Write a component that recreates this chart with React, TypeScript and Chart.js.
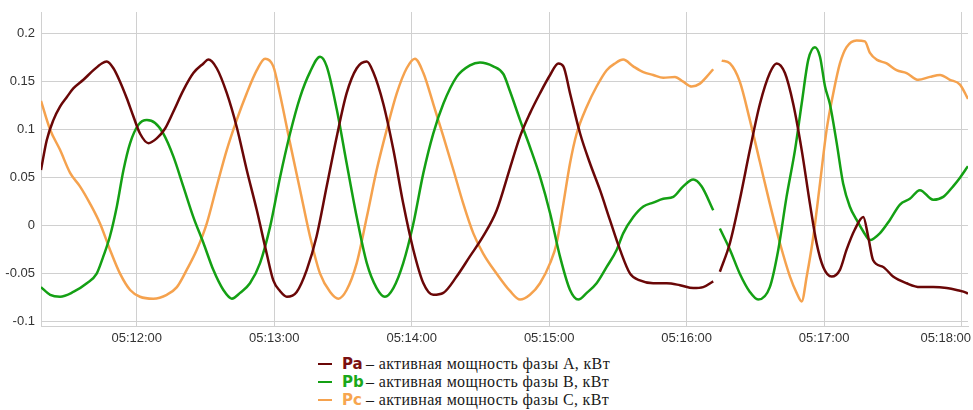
import React, { useEffect, useRef } from "react";
import { Chart, registerables } from "chart.js";

Chart.register(...registerables);

// time in seconds after 05:11:00
const X_MIN = 18.2;
const X_MAX = 422.8;
const Y_MIN = -0.1045;
const Y_MAX = 0.2226;
const X_TICKS = [60, 120, 180, 240, 300, 360, 420];

const paT = [18.2,20.7,23.6,26.5,29.5,32.3,36.7,41.1,44.7,46.9,49.8,52.7,55.6,58.5,61.4,65.1,68.7,72.3,76.0,80.3,84.7,89.1,91.2,94.9,99.3,103.6,108.0,112.4,116.7,119.6,122.5,125.5,129.8,134.2,138.5,142.9,147.3,151.6,156.0,160.4,163.2,167.6,172.0,176.3,180.7,185.1,189.4,193.8,199.6,205.4,211.2,217.1,222.9,227.3,231.6,236.0,240.4,244.0,246.2,249.1,253.5,257.8,262.2,266.5,270.9,275.3,279.6,285.4,291.3,297.1,302.9,307.2,311.6,313.0,314.5,318.9,323.2,327.6,332.0,336.3,339.3,342.9,346.5,350.2,353.8,356.7,359.6,363.3,366.9,369.8,373.4,377.1,379.2,381.4,385.8,390.1,396.0,401.8,407.6,413.5,417.8,422.2,422.8];
const paV = [0.058,0.089,0.110,0.124,0.134,0.143,0.152,0.162,0.169,0.171,0.164,0.150,0.133,0.114,0.096,0.086,0.091,0.101,0.119,0.141,0.159,0.169,0.173,0.164,0.138,0.103,0.058,0.016,-0.029,-0.057,-0.068,-0.074,-0.069,-0.046,-0.011,0.041,0.093,0.138,0.164,0.171,0.160,0.127,0.079,0.023,-0.025,-0.060,-0.072,-0.070,-0.053,-0.032,-0.011,0.016,0.060,0.093,0.117,0.138,0.157,0.169,0.166,0.138,0.096,0.065,0.037,0.006,-0.025,-0.050,-0.057,-0.060,-0.060,-0.062,-0.065,-0.064,-0.058,null,-0.048,-0.018,0.027,0.079,0.127,0.159,0.169,0.159,0.127,0.079,0.023,-0.018,-0.043,-0.053,-0.046,-0.025,-0.004,0.009,-0.011,-0.036,-0.043,-0.053,-0.060,-0.064,-0.064,-0.065,-0.067,-0.070,-0.071];

const pbT = [18.2,22.2,26.5,32.3,38.2,42.5,45.4,48.3,51.3,54.2,57.1,60.7,64.4,68.0,71.6,76.0,80.3,84.7,89.1,93.4,97.8,101.5,105.1,109.4,113.8,118.2,122.5,126.9,131.3,135.6,140.0,142.9,147.3,151.6,156.0,160.4,164.7,168.3,172.0,176.3,180.7,185.1,189.4,193.8,199.6,205.4,209.8,215.6,220.0,222.9,227.3,231.6,236.0,240.4,244.7,249.1,252.7,256.4,260.7,265.1,269.5,272.3,276.7,281.1,285.4,289.8,294.2,298.5,302.9,306.5,311.6,313.0,314.5,318.9,323.2,327.6,331.2,336.3,340.0,343.6,347.3,350.2,353.1,356.0,358.2,360.4,362.5,365.5,368.3,371.2,374.2,377.1,380.0,384.3,388.7,393.1,397.4,401.8,407.6,412.0,416.3,419.3,422.8];
const pbV = [-0.064,-0.072,-0.074,-0.069,-0.060,-0.050,-0.032,-0.011,0.020,0.058,0.086,0.105,0.110,0.107,0.096,0.072,0.041,0.009,-0.018,-0.046,-0.067,-0.076,-0.070,-0.060,-0.039,-0.001,0.050,0.096,0.134,0.160,0.176,0.166,0.121,0.065,0.009,-0.039,-0.065,-0.074,-0.065,-0.039,0.002,0.055,0.096,0.127,0.155,0.167,0.170,0.166,0.158,0.140,0.110,0.082,0.051,0.013,-0.032,-0.067,-0.077,-0.070,-0.060,-0.043,-0.025,-0.008,0.009,0.020,0.024,0.028,0.030,0.041,0.048,0.041,0.016,null,-0.003,-0.025,-0.050,-0.069,-0.077,-0.064,-0.025,0.030,0.079,0.127,0.173,0.186,0.176,0.145,0.127,0.086,0.044,0.020,0.006,-0.006,-0.015,-0.008,0.006,0.022,0.028,0.037,0.027,0.030,0.041,0.050,0.062];

const pcT = [18.2,22.2,26.5,30.9,35.2,39.6,44.0,48.3,52.7,57.1,61.4,67.2,73.1,77.5,81.8,86.2,90.5,94.9,99.3,103.6,108.0,112.4,116.0,119.6,122.5,126.9,131.3,135.6,140.0,144.4,148.0,151.6,156.0,160.4,164.7,169.1,173.5,177.8,181.4,185.1,189.4,193.8,198.2,202.5,206.9,211.2,217.1,222.9,227.3,231.6,236.0,240.4,243.3,246.2,249.1,252.0,256.4,260.7,265.1,268.7,272.3,276.7,281.1,285.4,289.8,294.9,298.5,302.2,305.8,308.7,311.6,313.0,315.3,318.9,323.2,327.6,332.0,336.3,340.7,345.1,348.0,350.2,352.4,355.3,358.2,361.1,364.0,366.9,369.8,374.2,377.8,380.0,382.9,387.3,391.6,396.0,401.1,406.2,410.6,414.9,419.3,422.8];
const pcV = [0.130,0.100,0.079,0.055,0.041,0.023,0.002,-0.025,-0.050,-0.067,-0.074,-0.076,-0.072,-0.064,-0.046,-0.025,0.002,0.041,0.079,0.110,0.138,0.162,0.174,0.166,0.137,0.086,0.037,-0.011,-0.050,-0.069,-0.076,-0.067,-0.039,0.009,0.058,0.100,0.138,0.164,0.174,0.159,0.127,0.093,0.058,0.023,-0.008,-0.029,-0.050,-0.068,-0.077,-0.072,-0.060,-0.039,-0.018,0.023,0.065,0.096,0.124,0.145,0.162,0.169,0.173,0.166,0.160,0.157,0.154,0.155,0.150,0.145,0.148,0.155,0.163,null,0.172,0.169,0.150,0.110,0.066,0.023,-0.018,-0.053,-0.070,-0.079,-0.053,-0.011,0.044,0.100,0.138,0.169,0.186,0.193,0.192,0.180,0.173,0.169,0.162,0.159,0.152,0.155,0.157,0.152,0.147,0.132];

const SERIES_NAMES = ["Pa", "Pb", "Pc"];
const SERIES_TEXT = [
  "активная мощность фазы А, кВт",
  "активная мощность фазы В, кВт",
  "активная мощность фазы С, кВт",
];
const LINE_COLORS = ["#6a0707", "#14a014", "#f5a24e"];
const NAME_COLORS = ["#7a1010", "#1aa81a", "#f7a650"];

const toPoints = (t: number[], v: (number | null)[]) => {
  const n = Math.min(t.length, v.length);
  const out: { x: number; y: number | null }[] = [];
  for (let i = 0; i < n; i++) out.push({ x: t[i], y: v[i] });
  return out;
};

const pad2 = (n: number) => (n < 10 ? "0" + n : "" + n);
const fmtTime = (s: number) => {
  const total = Math.round(5 * 3600 + 11 * 60 + s);
  const h = Math.floor(total / 3600);
  const m = Math.floor((total % 3600) / 60);
  const sec = total % 60;
  return pad2(h) + ":" + pad2(m) + ":" + pad2(sec);
};

const GRID = "#d0d0d0";
const FONT_FAMILY = "'Liberation Sans', Arial, sans-serif";
const TICK_FONT = { family: FONT_FAMILY, size: 13 };

// draws the time labels under the x axis, keeping the last one inside the canvas
const xLabelPlugin = {
  id: "xLabelPlugin",
  afterDraw(chart: any) {
    const sx = chart.scales.x;
    const ctx = chart.ctx;
    ctx.save();
    ctx.font = "13px " + FONT_FAMILY;
    ctx.fillStyle = "#333";
    ctx.textAlign = "center";
    ctx.textBaseline = "middle";
    const y = sx.top + 12;
    X_TICKS.forEach((v) => {
      const label = fmtTime(v);
      const w = ctx.measureText(label).width;
      const px = sx.getPixelForValue(v);
      const cx = Math.min(px, chart.width - 2 - w / 2);
      ctx.fillText(label, cx, y);
    });
    ctx.restore();
  },
};

export default function App() {
  const ref = useRef<HTMLCanvasElement | null>(null);

  useEffect(() => {
    if (!ref.current) return;
    const series = [toPoints(paT, paV), toPoints(pbT, pbV), toPoints(pcT, pcV)];
    const chart = new Chart(ref.current, {
      type: "line",
      data: {
        datasets: series.map((d, i) => ({
          label: SERIES_NAMES[i],
          data: d as any,
          borderColor: LINE_COLORS[i],
          backgroundColor: LINE_COLORS[i],
          borderWidth: 2.5,
          pointRadius: 0,
          cubicInterpolationMode: "monotone" as const,
          spanGaps: false,
          fill: false,
        })),
      },
      options: {
        animation: false,
        responsive: false,
        maintainAspectRatio: false,
        parsing: false as any,
        layout: { padding: { top: 12, right: 5, left: 0, bottom: 0 } },
        plugins: { legend: { display: false }, tooltip: { enabled: false } },
        scales: {
          x: {
            type: "linear",
            min: X_MIN,
            max: X_MAX,
            ticks: {
              display: false,
              stepSize: 60,
              includeBounds: false,
              autoSkip: false,
              maxRotation: 0,
            } as any,
            grid: { color: GRID, drawTicks: false, lineWidth: 1 },
            border: { color: GRID },
            afterFit: (s: any) => {
              s.height = 24;
              s.paddingLeft = 0;
              s.paddingRight = 0;
            },
          },
          y: {
            type: "linear",
            min: Y_MIN,
            max: Y_MAX,
            ticks: {
              stepSize: 0.05,
              includeBounds: false,
              padding: 6,
              color: "#333",
              font: TICK_FONT,
              callback: (v: any) => String(Math.round(Number(v) * 100) / 100),
            } as any,
            grid: { color: GRID, drawTicks: false, lineWidth: 1 },
            border: { color: GRID },
            afterFit: (s: any) => {
              s.width = 41;
              s.paddingTop = 0;
              s.paddingBottom = 0;
            },
          },
        },
      },
      plugins: [xLabelPlugin],
    });
    return () => chart.destroy();
  }, []);

  const rowTops = [355, 373, 391];

  return (
    <div style={{ position: "absolute", left: 0, top: 0, width: 973, height: 410, background: "#fff", overflow: "hidden" }}>
      <canvas ref={ref} width={973} height={350} style={{ display: "block", width: 973, height: 350 }} />
      {SERIES_NAMES.map((name, i) => (
        <div
          key={name}
          style={{
            position: "absolute",
            left: 318,
            top: rowTops[i],
            height: 18,
            display: "flex",
            alignItems: "center",
            whiteSpace: "nowrap",
          }}
        >
          <span style={{ display: "inline-block", width: 14, height: 2, background: LINE_COLORS[i], marginRight: 10 }} />
          <span
            style={{
              display: "inline-block",
              width: 24,
              fontFamily: "'DejaVu Sans', sans-serif",
              fontWeight: "bold",
              fontSize: 15,
              color: NAME_COLORS[i],
              lineHeight: "18px",
            }}
          >
            {name}
          </span>
          <span
            style={{
              fontFamily: "'Liberation Serif', 'Times New Roman', serif",
              fontSize: 16,
              letterSpacing: 0.35,
              color: "#1a1a1a",
              lineHeight: "18px",
            }}
          >
            {"\u2013 " + SERIES_TEXT[i]}
          </span>
        </div>
      ))}
    </div>
  );
}
